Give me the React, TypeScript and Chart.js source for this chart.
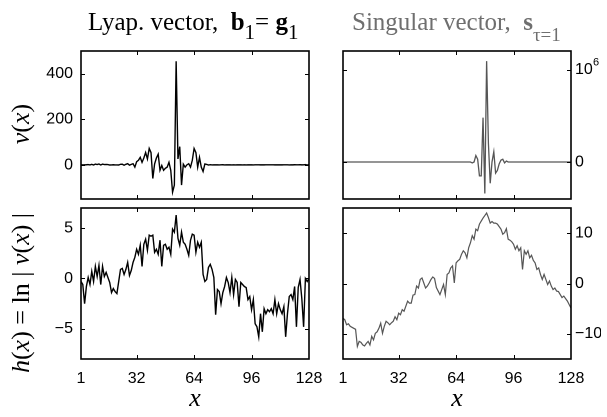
import React, { useEffect, useRef } from "react";
import { Chart, registerables } from "chart.js";

Chart.register(...registerables);

// ---------- data ----------
const X_INDEX: number[] = Array.from({ length: 128 }, (_, i) => i + 1);
const X_TICKS = [1, 32, 64, 96, 128];

// Lyapunov vector v(x)
const LYAP_V = [
  0.7, -0.5, -0.1, 0.4, 1.1, -0.5, 2.0, -0.7, 3.3, 1.2,
  3.7, -0.5, 3.3, 1.2, 1.8, 1.1, -0.7, -0.2, 0.4, -0.3,
  -0.2, -0.7, 2.5, 2.7, -1.5, 2.5, 5.0, -1.3, 2.2, 5.0,
  -10, 14, 20, 33, 11, 30, 54, 26, 72, 54,
  -60, 4, 30, 47, -24, -3, -24, -15, -10, 11,
  -24, -120, -89, 455, 26, 80, -89, 3, -10, 0,
  5, -10, 20, 72, 54, -10, 33, -10, -29, 4,
  2, -1, 0.5, -0.3, 0.2, -0.1, 0.3, -0.2, 0.1, 0.4,
  -0.3, 0.2, -0.1, 0.2, -0.2, 0.1, -0.4, 0.2, -0.1, 0.1,
  -0.2, 0.1, -0.3, 0.1, -0.1, 0.05, -0.2, 0.1, -0.05, 0.1,
  -0.1, 0.05, -0.1, 0.1, -0.05, 0.1, -0.05, 0.1, -0.1, 0.05,
  -0.1, 0.05, -0.1, 0.05, -0.02, 0.1, -0.2, 0.3, -0.1, 0.4,
  -0.02, 0.3, 0.9, -0.1, 0.02, 1.0, -0.7, 1.0,
];

// Singular vector v(x), in units of 10^6
const SING_V = [
  0, 0, 0, 0, 0, 0, 0, 0, 0, 0,
  0, 0, 0, 0, 0, 0, 0, 0, 0, 0,
  0, 0, 0, 0, 0, 0, 0, 0, 0, 0,
  0, 0, 0, 0, 0, 0, 0, 0, 0, 0,
  0, 0, 0, 0, 0, 0, 0, 0, 0, 0,
  0, 0, 0, 0, 0, 0, 0, 0, 0, 0,
  0, 0, 0, 0, 0, 0, 0, 0, 0, 0,
  0, 0, -0.01, 0.0, 0.07, 0.03, -0.15, -0.15, 0.48, -0.34,
  1.09, 0.2, -0.23, 0.0, 0.11, -0.12, -0.09, -0.02, 0.02, 0.03,
  -0.01, 0.01, 0, 0, 0, 0, 0, 0, 0, 0,
  0, 0, 0, 0, 0, 0, 0, 0, 0, 0,
  0, 0, 0, 0, 0, 0, 0, 0, 0, 0,
  0, 0, 0, 0, 0, 0, 0, 0,
];

// h(x) = ln|v(x)|, Lyapunov vector
const LYAP_H = [
  -0.3, -0.6, -2.5, -0.8, 0.1, -0.6, 0.7, -0.3, 1.2, 0.2,
  1.3, -0.6, 1.2, 0.2, 0.6, 0.1, -0.4, -1.4, -1.0, -1.3,
  -1.5, -0.3, 0.9, 1.0, 0.4, 0.9, 1.6, 0.3, 0.8, 1.6,
  2.1, 2.9, 2.4, 3.3, 1.2, 3.4, 3.9, 2.8, 4.3, 4.2,
  4.3, 2.6, 2.9, 2.4, 3.8, 1.2, 3.3, 3.4, 2.9, 3.1,
  2.4, 4.9, 4.6, 6.3, 4.0, 3.3, 4.6, 3.6, 3.4, 2.9,
  2.3, 3.8, 4.4, 4.3, 2.6, 3.6, 3.1, 3.6, 0.4, -0.3,
  -0.1, 1.1, 1.4, 0.9, 0.1, -3.6, -1.1, -1.3, -2.5, -1.4,
  -0.8, 0.1, -0.4, -1.4, 0.1, -1.6, -0.1, -0.4, -2.8, -0.4,
  -0.6, -0.8, -0.9, -2.1, -1.8, -3.1, -2.1, -4.5, -4.8, -5.8,
  -3.5, -5.3, -3.0, -3.5, -3.1, -3.3, -3.0, -3.5, -2.1, -3.5,
  -2.5, -3.1, -3.5, -2.8, -5.8, -3.5, -1.8, -1.6, -2.1, -0.8,
  -4.8, -0.9, -0.1, -2.0, -4.8, 0.0, -0.3, 0.0,
];

// h(x) = ln|v(x)|, singular vector
const SING_H = [
  -6.9, -7.2, -8.2, -8.0, -8.5, -8.7, -8.9, -9.1, -12.5, -11.5,
  -11.7, -12.2, -12.4, -11.9, -11.5, -12.2, -10.5, -11.2, -9.9, -9.6,
  -8.9, -7.9, -9.9, -8.5, -7.5, -7.8, -8.2, -7.8, -7.5, -6.6,
  -7.2, -5.9, -6.2, -5.2, -5.5, -4.5, -3.5, -3.9, -3.9, -2.3,
  -2.2, -0.5, -0.9, 0.8, 1.1, 0.1, -0.9, -0.5, 0.1, 0.8,
  1.3, 1.0, -0.8, -1.5, -2.2, -1.2, -0.2, -2.2, 1.8, 2.1,
  3.1, 3.5, 0.1, 4.1, 4.5, 4.8, 5.8, 6.5, 6.1, 5.1,
  7.1, 8.1, 9.5, 8.8, 10.8, 10.5, 11.8, 12.4, 13.0, 13.5,
  14.0, 13.1, 12.0, 12.3, 12.0, 12.0, 11.8, 11.3, 10.8, 9.8,
  10.1, 10.9, 8.8, 8.6, 8.3, 7.8, 6.8, 7.5, 6.5, 7.1,
  2.8, 6.5, 5.8, 6.5, 5.1, 5.6, 4.6, 4.1, 2.8, 3.1,
  1.8, 0.8, 1.8, 0.8, -0.2, 0.5, -0.5, -1.2, -0.9, -1.5,
  -1.6, -2.2, -2.8, -2.5, -3.0, -3.5, -4.2, -4.9,
];

const Y_TICKS_LYAP_V = [0, 200, 400];
const Y_TICKS_SING_V = [0, 1];
const Y_TICKS_LYAP_H = [-5, 0, 5];
const Y_TICKS_SING_H = [-10, 0, 10];

// ---------- layout ----------
const W = 607;
const H = 417;
const COLS = [
  { left: 81, right: 309 },
  { left: 343, right: 571 },
];
const ROWS = [
  { top: 51, bottom: 199 },
  { top: 208, bottom: 359 },
];
const YW_LEFT = 60;
const YW_RIGHT = 30;
const XH = 40;

const TICK_FONT = { family: "'Liberation Sans', Arial, Helvetica, sans-serif", size: 16 };

const fmt = (v: number) => (v < 0 ? "\u2212" + Math.abs(v) : String(v));

const framePlugin = {
  id: "frame",
  afterDatasetsDraw(chart: any) {
    const { ctx, chartArea, scales } = chart;
    const { left, right, top, bottom } = chartArea;
    ctx.save();
    ctx.strokeStyle = "#000";
    ctx.lineWidth = 1;
    const tl = 4;
    scales.x.ticks.forEach((t: any) => {
      const px = Math.round(scales.x.getPixelForValue(t.value)) + 0.5;
      if (px <= left + 1 || px >= right - 1) return;
      ctx.beginPath();
      ctx.moveTo(px, bottom);
      ctx.lineTo(px, bottom - tl);
      ctx.moveTo(px, top);
      ctx.lineTo(px, top + tl);
      ctx.stroke();
    });
    scales.y.ticks.forEach((t: any) => {
      const py = Math.round(scales.y.getPixelForValue(t.value)) + 0.5;
      if (py <= top + 1 || py >= bottom - 1) return;
      ctx.beginPath();
      ctx.moveTo(left, py);
      ctx.lineTo(left + tl, py);
      ctx.moveTo(right, py);
      ctx.lineTo(right - tl, py);
      ctx.stroke();
    });
    ctx.lineWidth = 1.6;
    ctx.strokeRect(left, top, right - left, bottom - top);
    ctx.restore();
  },
  afterDraw(chart: any, _args: any, opts: any) {
    if (!opts || !opts.sup) return;
    const { ctx, chartArea, scales } = chart;
    const py = scales.y.getPixelForValue(opts.supValue);
    ctx.save();
    ctx.fillStyle = "#000";
    ctx.font = "11px 'Liberation Sans', Arial, sans-serif";
    ctx.textBaseline = "alphabetic";
    ctx.textAlign = "left";
    ctx.fillText(opts.sup, chartArea.right + 4 + 18, py - 4);
    ctx.restore();
  },
};

type PanelCfg = {
  values: number[];
  color: string;
  width: number;
  yMin: number;
  yMax: number;
  yTicks: number[];
  yLabel?: (v: number) => string;
  col: number;
  row: number;
  sup?: string;
  supValue?: number;
};

const PANELS: PanelCfg[] = [
  { values: LYAP_V, color: "#000", width: 1.4, yMin: -150, yMax: 500, yTicks: Y_TICKS_LYAP_V, col: 0, row: 0 },
  {
    values: SING_V, color: "#555", width: 1.3, yMin: -0.4, yMax: 1.2, yTicks: Y_TICKS_SING_V, col: 1, row: 0,
    yLabel: (v) => (v === 1 ? "10" : fmt(v)), sup: "6", supValue: 1,
  },
  { values: LYAP_H, color: "#000", width: 1.4, yMin: -8, yMax: 7, yTicks: Y_TICKS_LYAP_H, col: 0, row: 1 },
  { values: SING_H, color: "#555", width: 1.2, yMin: -15, yMax: 15, yTicks: Y_TICKS_SING_H, col: 1, row: 1 },
];

function Panel({ cfg }: { cfg: PanelCfg }) {
  const ref = useRef<HTMLCanvasElement>(null);
  useEffect(() => {
    const c = COLS[cfg.col];
    const r = ROWS[cfg.row];
    const isRight = cfg.col === 1;
    const showX = cfg.row === 1;
    const yw = isRight ? YW_RIGHT : YW_LEFT;
    const padding = {
      left: isRight ? c.left : c.left - yw,
      right: isRight ? W - c.right - yw : W - c.right,
      top: r.top,
      bottom: showX ? H - r.bottom - XH : H - r.bottom,
    };
    const chart = new Chart(ref.current as HTMLCanvasElement, {
      type: "line",
      data: {
        datasets: [
          {
            data: cfg.values.map((v, i) => ({ x: X_INDEX[i], y: v })),
            borderColor: cfg.color,
            borderWidth: cfg.width,
            pointRadius: 0,
            tension: 0,
            fill: false,
          },
        ],
      },
      options: {
        animation: false,
        responsive: false,
        devicePixelRatio: 2,
        layout: { padding },
        plugins: {
          legend: { display: false },
          tooltip: { enabled: false },
          title: { display: false },
          frame: { sup: cfg.sup, supValue: cfg.supValue },
        } as any,
        scales: {
          x: {
            type: "linear",
            min: 1,
            max: 128,
            grid: { display: false, drawTicks: false },
            border: { display: false },
            afterBuildTicks: (s: any) => {
              s.ticks = X_TICKS.map((v) => ({ value: v }));
            },
            afterFit: (s: any) => {
              s.height = showX ? XH : 0;
            },
            ticks: {
              display: showX,
              autoSkip: false,
              maxRotation: 0,
              padding: 10,
              color: "#000",
              font: TICK_FONT,
              callback: (v: any) => String(v),
            },
          },
          y: {
            type: "linear",
            position: isRight ? "right" : "left",
            min: cfg.yMin,
            max: cfg.yMax,
            grid: { display: false, drawTicks: false },
            border: { display: false },
            afterBuildTicks: (s: any) => {
              s.ticks = cfg.yTicks.map((v) => ({ value: v }));
            },
            afterFit: (s: any) => {
              s.width = yw;
            },
            ticks: {
              autoSkip: false,
              padding: isRight ? 4 : 8,
              color: "#000",
              font: TICK_FONT,
              callback: (v: any) => (cfg.yLabel ? cfg.yLabel(Number(v)) : fmt(Number(v))),
            },
          },
        },
      },
      plugins: [framePlugin as any],
    });
    return () => chart.destroy();
  }, []);
  return (
    <canvas
      ref={ref}
      width={W}
      height={H}
      style={{ position: "absolute", left: 0, top: 0, width: W, height: H }}
    />
  );
}

const serif = "'Liberation Serif', 'Times New Roman', Times, serif";

export default function App() {
  const rot = (cx: number, cy: number, content: React.ReactNode) => (
    <div
      style={{
        position: "absolute",
        left: cx,
        top: cy,
        transform: "translate(-50%, -50%) rotate(-90deg)",
        whiteSpace: "pre",
        font: `26px ${serif}`,
        lineHeight: "26px",
        color: "#000",
      }}
    >
      {content}
    </div>
  );
  return (
    <div
      style={{
        position: "absolute",
        left: 0,
        top: 0,
        width: W,
        height: H,
        background: "#fff",
        overflow: "hidden",
      }}
    >
      {PANELS.map((p, i) => (
        <Panel key={i} cfg={p} />
      ))}
      <div
        style={{
          position: "absolute",
          left: 88,
          top: 9,
          whiteSpace: "nowrap",
          font: `25px ${serif}`,
          lineHeight: "25px",
          color: "#000",
        }}
      >
        Lyap. vector,&nbsp; <b>b</b>
        <span style={{ fontSize: 21, position: "relative", top: 9 }}>1</span>= <b>g</b>
        <span style={{ fontSize: 21, position: "relative", top: 9 }}>1</span>
      </div>
      <div
        style={{
          position: "absolute",
          left: 352,
          top: 9,
          whiteSpace: "nowrap",
          font: `25px ${serif}`,
          lineHeight: "25px",
          color: "#6f6f6f",
        }}
      >
        Singular vector,&nbsp; <b>s</b>
        <span style={{ fontSize: 19, position: "relative", top: 11 }}>τ=1</span>
      </div>
      {rot(21, 124, (
        <span>
          <i>v</i>(<i>x</i>)
        </span>
      ))}
      {rot(21, 293, (
        <span>
          <i>h</i>(<i>x</i>) = ln | <i>v</i>(<i>x</i>) |
        </span>
      ))}
      <div
        style={{
          position: "absolute",
          left: 195,
          top: 398,
          transform: "translate(-50%, -50%)",
          font: `italic 26px ${serif}`,
          color: "#000",
        }}
      >
        x
      </div>
      <div
        style={{
          position: "absolute",
          left: 457,
          top: 398,
          transform: "translate(-50%, -50%)",
          font: `italic 26px ${serif}`,
          color: "#000",
        }}
      >
        x
      </div>
    </div>
  );
}
